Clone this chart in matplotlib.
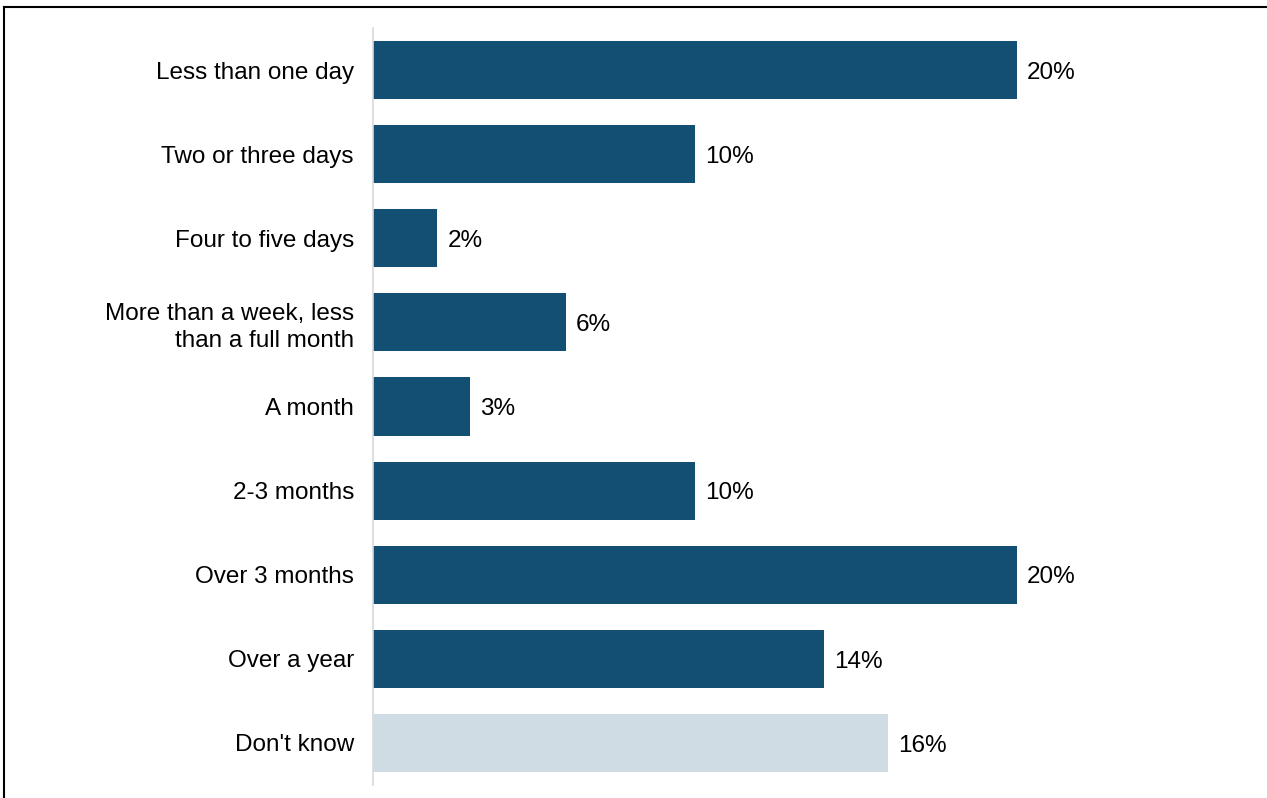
import matplotlib
matplotlib.use("Agg")
import matplotlib.pyplot as plt
from matplotlib.lines import Line2D

categories = [
    "Less than one day",
    "Two or three days",
    "Four to five days",
    "More than a week, less\nthan a full month",
    "A month",
    "2-3 months",
    "Over 3 months",
    "Over a year",
    "Don't know",
]
values = [20, 10, 2, 6, 3, 10, 20, 14, 16]
value_labels = ["20%", "10%", "2%", "6%", "3%", "10%", "20%", "14%", "16%"]

DARK = "#124F72"
LIGHT = "#CFDCE4"
colors = [DARK] * 8 + [LIGHT]

plt.rcParams["font.family"] = ["Liberation Sans", "DejaVu Sans"]
FS = 17.5

W, H = 1267, 798
fig = plt.figure(figsize=(W / 100, H / 100), dpi=100)
ax = fig.add_axes([373 / W, (H - 785) / H, (1200 - 373) / W, (785 - 28) / H])

pos = list(range(len(categories)))
ax.barh(pos, values, height=0.69, color=colors)
ax.set_ylim(len(categories) - 0.5, -0.5)
ax.set_xlim(0, (1200 - 373) / 32.2)

for p, v, lab in zip(pos, values, value_labels):
    ax.annotate(lab, (v, p), xytext=(10, -8.7), textcoords="offset pixels",
                ha="left", va="baseline", fontsize=FS, color="black")

ax.set_yticks(pos)
ax.set_yticklabels(categories, fontsize=FS, linespacing=1.28)
for t in ax.get_yticklabels():
    t.set_horizontalalignment("right")
ax.tick_params(axis="y", length=0, pad=13.7)
ax.set_xticks([])

for s in ["top", "right", "bottom"]:
    ax.spines[s].set_visible(False)
ax.spines["left"].set_color("#D9D9D9")
ax.spines["left"].set_linewidth(1.2)

# frame around the figure
fig.add_artist(Line2D([4 / W, 1], [1 - 7 / H, 1 - 7 / H], color="black", lw=1.5,
                      transform=fig.transFigure))
fig.add_artist(Line2D([4 / W, 4 / W], [0, 1 - 7 / H], color="black", lw=1.5,
                      transform=fig.transFigure))

fig.savefig("out.png", dpi=100)
